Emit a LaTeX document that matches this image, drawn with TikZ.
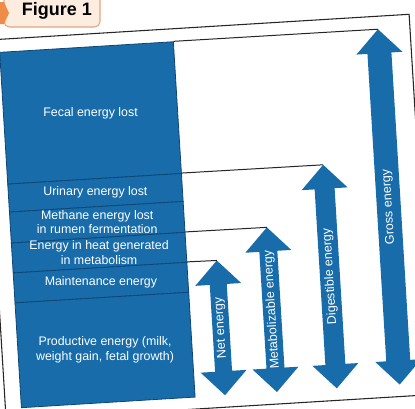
\documentclass[tikz,border=0pt]{standalone}
\usepackage{fontspec}
\setmainfont{Liberation Sans}
\usetikzlibrary{calc}
\definecolor{figblue}{HTML}{186CAA}
\definecolor{figline}{HTML}{0E4676}
\definecolor{tabfill}{HTML}{FDEDE0}
\definecolor{tabedge}{HTML}{E6A77C}
\definecolor{tabmark}{HTML}{EE8C48}
\def\pxu{0.75pt}
\newcommand\energyarrow[5]{%
  \fill[figblue] (#2,#3) -- (#2+23,#3+24) -- (#2+#5,#3+24) -- (#2+#5,#4-24)
    -- (#2+23,#4-24) -- (#2,#4) -- (#2-23,#4-24) -- (#2-#5,#4-24)
    -- (#2-#5,#3+24) -- (#2-23,#3+24) -- cycle;
  \coordinate (#1top) at (#2,#3);
  \coordinate (#1bot) at (#2,#4);
}
\tikzset{
  cell/.style={draw=figline, line width=0.6pt, fill=figblue,
    minimum width=174*\pxu, inner sep=0pt, transform shape},
  celltext/.style={text=white, inner sep=0pt, align=center,
    font=\fontsize{9.3}{10.9}\selectfont},
  arrowlabel/.style={text=white, rotate=93.5, inner sep=0pt,
    font=\fontsize{9.4}{10.9}\selectfont},
  connector/.style={draw=black!85, line width=0.75pt},
  framebox/.style={draw=black!85, line width=0.8pt},
}
\begin{document}
\begin{tikzpicture}[x=0.75pt, y=-0.75pt]
\useasboundingbox (0,0) rectangle (415,408);
\clip (0,0) rectangle (415,408);
\fill[white] (0,0) rectangle (415,408);
\begin{scope}[rotate around={3.5:(207,215)}]
  \draw[framebox] (-6,27) rectangle (421,408);
  % column of energy parts
  \node[cell, minimum height=132*\pxu] (fecal) at (97,106) {};
  \node[cell, minimum height=28*\pxu] (urinary) at (97,186) {};
  \node[cell, minimum height=31*\pxu] (methane) at (97,215.5) {};
  \node[cell, minimum height=30*\pxu] (heat) at (97,246) {};
  \node[cell, minimum height=30*\pxu] (maint) at (97,276) {};
  \node[cell, minimum height=105*\pxu] (prod) at (97,343.5) {};
  % double arrows
  \energyarrow{n}{214}{261}{396}{8.5}
  \energyarrow{m}{266}{231}{396}{9}
  \energyarrow{d}{326}{172}{396}{10}
  \energyarrow{g}{389}{40}{396}{12}
  % connectors
  \draw[connector] (fecal.north east) -- (gtop);
  \draw[connector] (urinary.north east) -- (dtop);
  \draw[connector] (heat.north east) -- (mtop);
  \draw[connector] (maint.north east) -- (ntop);
\end{scope}
% texts of the column
\node[celltext] (fecaltxt) at (fecal.center) {Fecal energy lost};
\node[celltext] (urinarytxt) at (urinary.center) {Urinary energy lost};
\node[celltext] (methanetxt) at (methane.center) {Methane energy lost\\in rumen fermentation};
\node[celltext] (heattxt) at (heat.center) {Energy in heat generated\\in metabolism};
\node[celltext] (mainttxt) at (maint.center) {Maintenance energy};
\node[celltext] (prodtxt) at (prod.center) {Productive energy (milk,\\weight gain, fetal growth)};
% texts of the arrows
\node[arrowlabel] (netlbl) at ($(ntop)!0.5!(nbot)$) {Net energy};
\node[arrowlabel] (metlbl) at ($(mtop)!0.5!(mbot)$) {Metabolizable energy};
\node[arrowlabel] (diglbl) at ($(dtop)!0.5!(dbot)$) {Digestible energy};
\node[arrowlabel] (grolbl) at ($(gtop)!0.5!(gbot)$) {Gross energy};
% title tab
\draw[tabedge, fill=tabfill, line width=0.8pt, rounded corners=4pt] (4,-6) rectangle (100,27);
\fill[tabmark] (-3,2) -- (4,2) -- (9,13) -- (4,24) -- (-3,24) -- cycle;
\node[font=\fontsize{13.5}{15}\selectfont\bfseries, text=black, inner sep=0pt] (title) at (57,11) {Figure 1};
\end{tikzpicture}
\end{document}
